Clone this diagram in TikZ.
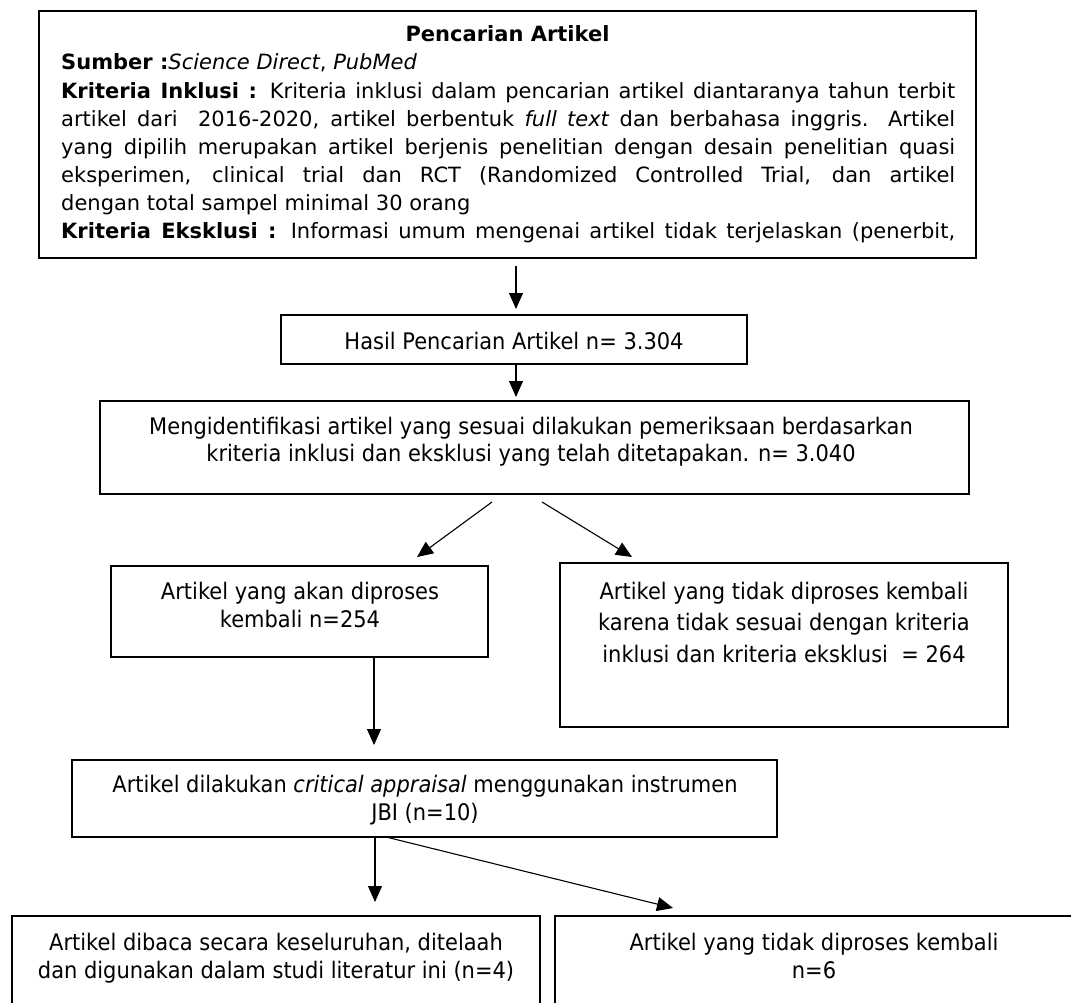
\documentclass[tikz,border=0pt]{standalone}
\usepackage{fontspec}
\setmainfont{DejaVu Sans}
\newfontfamily\lowfont{DejaVu Sans}[FakeStretch=0.92]
\usetikzlibrary{arrows.meta,calc}
\tikzset{
  boxn/.style={draw, line width=1.8pt, rectangle, inner sep=0pt},
  arr/.style={line width=1.1pt, -{Triangle[length=16pt,width=14pt]}},
  txt/.style={anchor=base, inner sep=0pt, font=\lowfont\fontsize{22.8}{28}\selectfont},
  tline/.style={anchor=base west, inner sep=0pt, font=\fontsize{21}{28}\selectfont},
}
\newcommand{\jline}[1]{\makebox[894pt][s]{#1}}
\begin{document}
\begin{tikzpicture}[x=1pt,y=-1pt]
\useasboundingbox (0,0) rectangle (1071,1003);
\clip (0,0) rectangle (1071,1003);
\fill[white] (0,0) rectangle (1071,1003);

% boxes
\node[boxn, minimum width=937pt, minimum height=247pt] (top) at (507.5,134.5) {};
\node[boxn, minimum width=466pt, minimum height=49pt] (hasil) at (514,339.5) {};
\node[boxn, minimum width=869pt, minimum height=93pt] (ident) at (534.5,447.5) {};
\node[boxn, minimum width=377pt, minimum height=91pt] (kiri) at (299.5,611.5) {};
\node[boxn, minimum width=448pt, minimum height=164pt] (kanan) at (784,645) {};
\node[boxn, minimum width=705pt, minimum height=77pt] (crit) at (424.5,798.5) {};
\node[boxn, minimum width=528pt, minimum height=100pt] (bl) at (276,966) {};
\node[boxn, minimum width=530pt, minimum height=100pt] (br) at (820,966) {};

% top box text
\node[anchor=base, inner sep=0pt, font=\fontsize{21}{28}\selectfont\bfseries] (t0) at (507.5,41.5) {Pencarian Artikel};
\node[tline] (t1) at (61,70) {\textbf{Sumber :}\textit{Science Direct}, \textit{PubMed}};
\node[tline] (t2) at (61,98.5) {\jline{\textbf{Kriteria Inklusi :} Kriteria inklusi dalam pencarian artikel diantaranya tahun terbit}};
\node[tline] (t3) at (61,126.5) {\jline{artikel dari\ \ 2016-2020, artikel berbentuk \textit{full text} dan berbahasa inggris. Artikel}};
\node[tline] (t4) at (61,154.5) {\jline{yang dipilih merupakan artikel berjenis penelitian dengan desain penelitian quasi}};
\node[tline] (t5) at (61,182.5) {\jline{eksperimen, clinical trial dan RCT (Randomized Controlled Trial, dan artikel}};
\node[tline] (t6) at (61,210.5) {dengan total sampel minimal 30 orang};
\node[tline] (t7) at (61,238.5) {\jline{\textbf{Kriteria Eksklusi :} Informasi umum mengenai artikel tidak terjelaskan (penerbit,}};

% other texts
\node[txt] (h1) at (514,349) {Hasil Pencarian Artikel n= 3.304};
\node[txt] (i1) at (531,434) {Mengidentifikasi artikel yang sesuai dilakukan pemeriksaan berdasarkan};
\node[txt] (i2) at (531,461.5) {kriteria inklusi dan eksklusi yang telah ditetapakan. n= 3.040};
\node[txt] (k1) at (300,599) {Artikel yang akan diproses};
\node[txt] (k2) at (300,627) {kembali n=254};
\node[txt] (r1) at (784,599) {Artikel yang tidak diproses kembali};
\node[txt] (r2) at (784,630.5) {karena tidak sesuai dengan kriteria};
\node[txt] (r3) at (784,662) {inklusi dan kriteria eksklusi\ \ = 264};
\node[txt] (c1) at (425,792.5) {Artikel dilakukan \textit{critical appraisal} menggunakan instrumen};
\node[txt] (c2) at (425,820.5) {JBI (n=10)};
\node[txt] (b1) at (276,950.5) {Artikel dibaca secara keseluruhan, ditelaah};
\node[txt] (b2) at (276,978) {dan digunakan dalam studi literatur ini (n=4)};
\node[txt] (b3) at (814,950.5) {Artikel yang tidak diproses kembali};
\node[txt] (b4) at (814,978) {n=6};

% connector coordinates
\coordinate (a1s) at (516,266);
\coordinate (a1e) at (516,309);
\coordinate (a2e) at (516,397);
\coordinate (a3s) at (492,502);
\coordinate (a3e) at (417,557);
\coordinate (a4s) at (542,502);
\coordinate (a4e) at (632,557);
\coordinate (a5e) at (374,745);
\coordinate (a6e) at (375,902);
\coordinate (a7s) at (386,837);
\coordinate (a7e) at (673,908);

\draw[arr] (a1s) -- (a1e);
\draw[arr] (hasil.south -| a1s) -- (a2e);
\draw[arr] (a3s) -- (a3e);
\draw[arr] (a4s) -- (a4e);
\draw[arr] (kiri.south -| a5e) -- (a5e);
\draw[arr] (crit.south -| a6e) -- (a6e);
\draw[arr] (a7s) -- (a7e);
\end{tikzpicture}
\end{document}
